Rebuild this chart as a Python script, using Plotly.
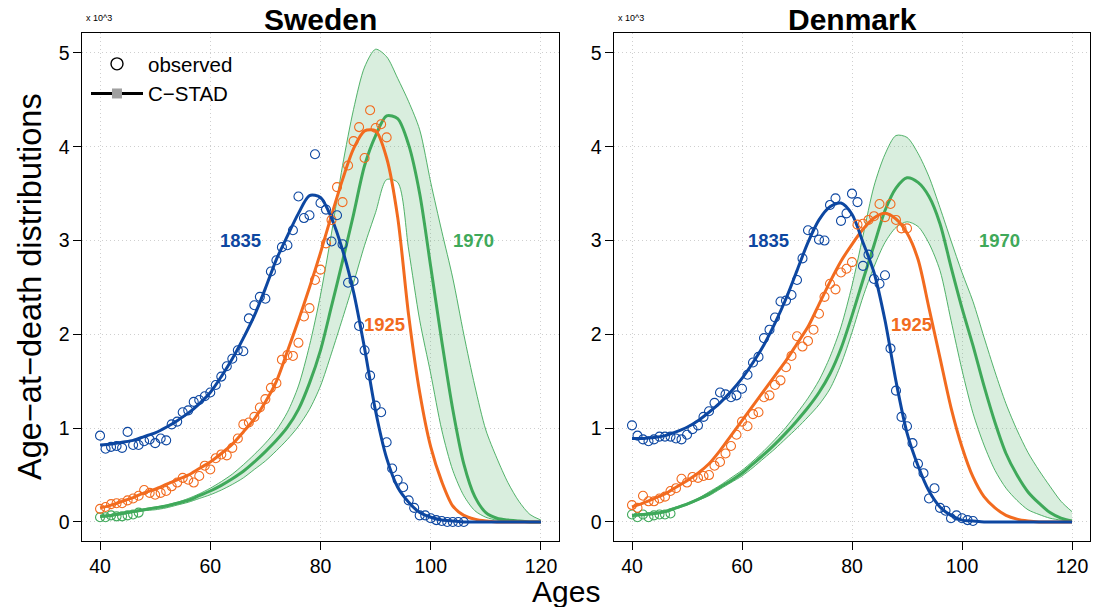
import plotly.graph_objects as go

# ---------------- data ----------------
FIT_AGES = list(range(40, 121, 2))

# Sweden fitted (x 10^3)
SW_FIT_1835 = [0.82, 0.83, 0.85, 0.87, 0.91, 0.95, 1.01, 1.08, 1.16, 1.26, 1.38, 1.55, 1.74, 1.96, 2.20,
               2.49, 2.80, 3.05, 3.29, 3.48, 3.46, 3.24, 2.90, 2.45, 1.85, 1.18, 0.68, 0.37, 0.21, 0.10,
               0.05, 0.02, 0.01, 0, 0, 0, 0, 0, 0, 0, 0]
SW_FIT_1925 = [0.15, 0.18, 0.22, 0.26, 0.31, 0.35, 0.40, 0.45, 0.50, 0.57, 0.64, 0.73, 0.83, 0.96, 1.10,
               1.28, 1.50, 1.82, 2.15, 2.50, 2.87, 3.27, 3.65, 3.98, 4.17, 4.17, 3.88, 3.25, 2.20, 1.38,
               0.80, 0.43, 0.17, 0.07, 0.03, 0.01, 0, 0, 0, 0, 0]
SW_FIT_1970 = [0.06, 0.07, 0.09, 0.11, 0.13, 0.15, 0.17, 0.20, 0.23, 0.28, 0.33, 0.39, 0.46, 0.54, 0.64,
               0.75, 0.87, 1.01, 1.20, 1.48, 1.83, 2.30, 2.78, 3.28, 3.80, 4.12, 4.33, 4.30, 4.02, 3.50,
               2.72, 1.93, 1.20, 0.62, 0.27, 0.10, 0.04, 0.02, 0.01, 0, 0]
SW_UP_1970 = [0.07, 0.08, 0.10, 0.12, 0.14, 0.16, 0.18, 0.21, 0.25, 0.30, 0.36, 0.43, 0.51, 0.61, 0.72,
              0.84, 0.98, 1.17, 1.45, 1.88, 2.42, 3.08, 3.80, 4.40, 4.85, 5.04, 4.96, 4.73, 4.48, 4.18,
              3.62, 3.10, 2.60, 2.00, 1.45, 0.98, 0.68, 0.42, 0.22, 0.08, 0.02]
SW_LO_1970 = [0.05, 0.06, 0.08, 0.10, 0.12, 0.13, 0.15, 0.18, 0.21, 0.25, 0.29, 0.34, 0.40, 0.47, 0.56,
              0.65, 0.76, 0.88, 1.02, 1.20, 1.45, 1.80, 2.17, 2.55, 2.95, 3.30, 3.65, 3.62, 2.90, 2.15,
              1.58, 0.98, 0.55, 0.28, 0.12, 0.05, 0.02, 0.01, 0, 0, 0]

# Denmark fitted (x 10^3)
DK_FIT_1835 = [0.89, 0.89, 0.90, 0.92, 0.96, 1.01, 1.08, 1.17, 1.27, 1.39, 1.53, 1.70, 1.89, 2.12, 2.38,
               2.68, 2.98, 3.22, 3.36, 3.40, 3.28, 2.98, 2.66, 2.15, 1.50, 0.95, 0.60, 0.33, 0.16, 0.07,
               0.02, 0.01, 0, 0, 0, 0, 0, 0, 0, 0, 0]
DK_FIT_1925 = [0.16, 0.20, 0.25, 0.30, 0.37, 0.44, 0.52, 0.62, 0.76, 0.92, 1.08, 1.24, 1.40, 1.56, 1.72,
               1.90, 2.08, 2.32, 2.56, 2.78, 2.96, 3.12, 3.24, 3.29, 3.23, 3.08, 2.80, 2.28, 1.75, 1.22,
               0.80, 0.48, 0.27, 0.15, 0.07, 0.03, 0.01, 0, 0, 0, 0]
DK_FIT_1970 = [0.07, 0.08, 0.09, 0.11, 0.15, 0.19, 0.24, 0.30, 0.37, 0.44, 0.52, 0.62, 0.72, 0.83, 0.95,
               1.08, 1.22, 1.38, 1.58, 1.85, 2.20, 2.58, 2.95, 3.32, 3.56, 3.67, 3.62, 3.47, 3.18, 2.72,
               2.28, 1.88, 1.45, 1.06, 0.73, 0.50, 0.32, 0.20, 0.10, 0.04, 0.01]
DK_UP_1970 = [0.08, 0.09, 0.10, 0.12, 0.16, 0.20, 0.25, 0.32, 0.39, 0.47, 0.55, 0.65, 0.76, 0.88, 1.01,
              1.16, 1.32, 1.51, 1.76, 2.08, 2.52, 3.05, 3.58, 3.92, 4.12, 4.10, 3.93, 3.68, 3.35, 3.00,
              2.66, 2.35, 1.97, 1.60, 1.26, 0.98, 0.74, 0.55, 0.38, 0.22, 0.11]
DK_LO_1970 = [0.06, 0.07, 0.08, 0.10, 0.14, 0.18, 0.23, 0.28, 0.35, 0.42, 0.49, 0.58, 0.68, 0.78, 0.89,
              1.00, 1.12, 1.25, 1.42, 1.68, 2.02, 2.40, 2.72, 2.98, 3.14, 3.20, 3.15, 2.97, 2.68, 2.15,
              1.62, 1.16, 0.82, 0.55, 0.36, 0.23, 0.13, 0.08, 0.04, 0.02, 0.01]

# Observed
SW_OBS_1835_AGES = list(range(40, 107))
SW_OBS_1835 = [0.92, 0.78, 0.80, 0.81, 0.79, 0.96, 0.82, 0.82, 0.86, 0.88, 0.84, 0.89, 0.87, 1.04, 1.07,
               1.17, 1.19, 1.28, 1.30, 1.34, 1.38, 1.46, 1.55, 1.66, 1.74, 1.83, 1.82, 2.17, 2.31, 2.40,
               2.38, 2.67, 2.79, 2.93, 2.95, 3.11, 3.47, 3.24, 3.27, 3.92, 3.40, 3.33, 2.99, 3.27, 2.96,
               2.55, 2.57, 2.09, 1.83, 1.56, 1.24, 1.17, 0.85, 0.57, 0.45, 0.37, 0.23, 0.15, 0.07, 0.07,
               0.04, 0.02, 0.01, 0.0, 0.0, 0.0, 0.0]
SW_OBS_1925_AGES = list(range(40, 93))
SW_OBS_1925 = [0.14, 0.16, 0.19, 0.20, 0.20, 0.23, 0.25, 0.28, 0.34, 0.31, 0.29, 0.31, 0.33, 0.38, 0.42,
               0.47, 0.45, 0.42, 0.49, 0.60, 0.56, 0.68, 0.72, 0.71, 0.79, 0.89, 1.04, 1.06, 1.12, 1.22,
               1.31, 1.43, 1.48, 1.73, 1.78, 1.77, 1.91, 2.19, 2.28, 2.58, 2.69, 2.97, 3.22, 3.57, 3.41,
               3.80, 4.06, 4.21, 3.88, 4.39, 4.20, 4.24, 4.10]
SW_OBS_1970_AGES = list(range(40, 48))
SW_OBS_1970 = [0.05, 0.05, 0.07, 0.06, 0.06, 0.07, 0.08, 0.10]

DK_OBS_1835_AGES = list(range(40, 103))
DK_OBS_1835 = [1.03, 0.92, 0.88, 0.86, 0.88, 0.91, 0.91, 0.91, 0.89, 0.88, 0.93, 0.99, 1.03, 1.12, 1.18,
               1.27, 1.38, 1.36, 1.33, 1.35, 1.42, 1.57, 1.70, 1.76, 1.96, 2.05, 2.18, 2.35, 2.36, 2.42,
               2.58, 2.81, 3.11, 3.09, 3.01, 3.00, 3.38, 3.45, 3.21, 3.29, 3.50, 3.41, 2.73, 2.85, 2.59,
               2.54, 2.63, 1.85, 1.40, 1.12, 1.02, 0.84, 0.62, 0.52, 0.25, 0.36, 0.15, 0.12, 0.04, 0.07,
               0.04, 0.02, 0.01]
DK_OBS_1925_AGES = list(range(40, 91))
DK_OBS_1925 = [0.18, 0.15, 0.28, 0.22, 0.22, 0.25, 0.27, 0.33, 0.36, 0.46, 0.42, 0.48, 0.47, 0.49, 0.50,
               0.60, 0.64, 0.73, 0.81, 0.93, 1.07, 1.02, 1.15, 1.17, 1.33, 1.35, 1.46, 1.51, 1.65, 1.77,
               1.98, 1.87, 1.93, 2.05, 2.22, 2.40, 2.54, 2.48, 2.66, 2.70, 2.77, 3.17, 3.18, 3.22, 3.26,
               3.39, 3.25, 3.39, 3.22, 3.13, 3.13]
DK_OBS_1970_AGES = list(range(40, 48))
DK_OBS_1970 = [0.08, 0.05, 0.08, 0.05, 0.07, 0.08, 0.08, 0.09]

COHORTS = ["1835", "1925", "1970"]
PANELS = ["Sweden", "Denmark"]
X_TICKS = [40, 60, 80, 100, 120]
Y_TICKS = [0, 1, 2, 3, 4, 5]

# ---------------- styling ----------------
BLUE = "#0D47A1"
ORANGE = "#F26B1F"
GREEN = "#3FA95A"
GREEN_FILL = "rgba(63,169,90,0.20)"
FONT = "Liberation Sans, Arial, Helvetica, sans-serif"
W, H = 1093, 607

fig = go.Figure()

panels = [
    dict(xa="x", ya="y", fit=[SW_FIT_1835, SW_FIT_1925, SW_FIT_1970], up=SW_UP_1970, lo=SW_LO_1970,
         obs=[(SW_OBS_1835_AGES, SW_OBS_1835), (SW_OBS_1925_AGES, SW_OBS_1925), (SW_OBS_1970_AGES, SW_OBS_1970)],
         labels=[(65.4, 3.0), (91.7, 2.1), (107.8, 3.0)]),
    dict(xa="x2", ya="y2", fit=[DK_FIT_1835, DK_FIT_1925, DK_FIT_1970], up=DK_UP_1970, lo=DK_LO_1970,
         obs=[(DK_OBS_1835_AGES, DK_OBS_1835), (DK_OBS_1925_AGES, DK_OBS_1925), (DK_OBS_1970_AGES, DK_OBS_1970)],
         labels=[(64.9, 3.0), (90.9, 2.1), (106.9, 3.0)]),
]
colors = [BLUE, ORANGE, GREEN]

# legend entries first
fig.add_trace(go.Scatter(x=[None], y=[None], mode="markers", name="observed",
                         marker=dict(symbol="circle-open", size=12, color="black", line=dict(width=1.4))))
fig.add_trace(go.Scatter(x=[None], y=[None], mode="lines+markers", name="C\u2212STAD",
                         line=dict(color="black", width=3),
                         marker=dict(symbol="square", size=10, color="#A0A0A0")))

for p in panels:
    # 1970 uncertainty band
    fig.add_trace(go.Scatter(x=FIT_AGES, y=p["lo"], mode="lines", xaxis=p["xa"], yaxis=p["ya"],
                             line=dict(color=GREEN, width=0.9, shape="spline", smoothing=0.8),
                             showlegend=False, hoverinfo="skip"))
    fig.add_trace(go.Scatter(x=FIT_AGES, y=p["up"], mode="lines", xaxis=p["xa"], yaxis=p["ya"],
                             line=dict(color=GREEN, width=0.9, shape="spline", smoothing=0.8),
                             fill="tonexty", fillcolor=GREEN_FILL,
                             showlegend=False, hoverinfo="skip"))
    # fitted lines: 1970, 1925, 1835
    for idx in [2, 1, 0]:
        fig.add_trace(go.Scatter(x=FIT_AGES, y=p["fit"][idx], mode="lines", xaxis=p["xa"], yaxis=p["ya"],
                                 line=dict(color=colors[idx], width=3, shape="spline", smoothing=0.8),
                                 showlegend=False, name=COHORTS[idx]))
    # observed
    for idx in [2, 1, 0]:
        ages, vals = p["obs"][idx]
        fig.add_trace(go.Scatter(x=ages, y=vals, mode="markers", xaxis=p["xa"], yaxis=p["ya"],
                                 marker=dict(symbol="circle-open", size=9, color=colors[idx],
                                             line=dict(width=1.1, color=colors[idx])),
                                 showlegend=False, name=COHORTS[idx]))
    for idx, (lx, ly) in enumerate(p["labels"]):
        fig.add_annotation(x=lx, y=ly, xref=p["xa"], yref=p["ya"], text="<b>%s</b>" % COHORTS[idx],
                           showarrow=False, xanchor="center", yanchor="middle",
                           font=dict(size=18.5, color=colors[idx], family=FONT))

axis_common = dict(showline=True, linecolor="black", linewidth=1, mirror=True,
                   ticks="outside", ticklen=8, tickcolor="black", tickwidth=1,
                   showgrid=True, gridcolor="#CFCFCF", griddash="1px,3px", gridwidth=1,
                   zeroline=False, automargin=False,
                   tickfont=dict(size=19.5, family=FONT, color="black"))

fig.update_layout(
    width=W, height=H,
    margin=dict(l=0, r=0, t=0, b=0, autoexpand=False),
    paper_bgcolor="white", plot_bgcolor="white",
    font=dict(family=FONT, color="black"),
    xaxis=dict(domain=[82.4 / W, 558.6 / W], range=[36.8, 123.2], tickvals=X_TICKS, anchor="y", **axis_common),
    yaxis=dict(domain=[1 - 541 / H, 1 - 33 / H], range=[-0.203, 5.213], tickvals=Y_TICKS, anchor="x", **axis_common),
    xaxis2=dict(domain=[614.4 / W, 1089.6 / W], range=[36.8, 123.2], tickvals=X_TICKS, anchor="y2", **axis_common),
    yaxis2=dict(domain=[1 - 541 / H, 1 - 33 / H], range=[-0.203, 5.213], tickvals=Y_TICKS, anchor="x2", **axis_common),
    legend=dict(x=86 / W, y=1 - 44 / H, xanchor="left", yanchor="top", bgcolor="rgba(0,0,0,0)",
                font=dict(size=20.5, family=FONT, color="black"), itemwidth=52, tracegroupgap=0,
                traceorder="normal"),
    showlegend=True,
)

for name, cx, bx in [(PANELS[0], 320.5 / W, 84 / W), (PANELS[1], 852 / W, 616 / W)]:
    fig.add_annotation(x=cx, y=1 - 20 / H, xref="paper", yref="paper", text="<b>%s</b>" % name,
                       showarrow=False, xanchor="center", yanchor="middle",
                       font=dict(size=30, family=FONT, color="black"))
    fig.add_annotation(x=bx, y=1 - 18 / H, xref="paper", yref="paper", text="x 10^3",
                       xanchor="left", yanchor="middle", showarrow=False,
                       font=dict(size=9, family=FONT, color="black"))

fig.add_annotation(x=30 / W, y=1 - 287 / H, xref="paper", yref="paper", text="Age\u2212at\u2212death distributions",
                   textangle=-90, showarrow=False, xanchor="center", yanchor="middle",
                   font=dict(size=32.5, family=FONT, color="black"))
fig.add_annotation(x=566 / W, y=1 - 591 / H, xref="paper", yref="paper", text="Ages",
                   showarrow=False, xanchor="center", yanchor="middle",
                   font=dict(size=30, family=FONT, color="black"))

fig.write_html("out.html", config={"displayModeBar": False},
               post_script="document.body.style.margin='0px';document.body.style.overflow='hidden';")
